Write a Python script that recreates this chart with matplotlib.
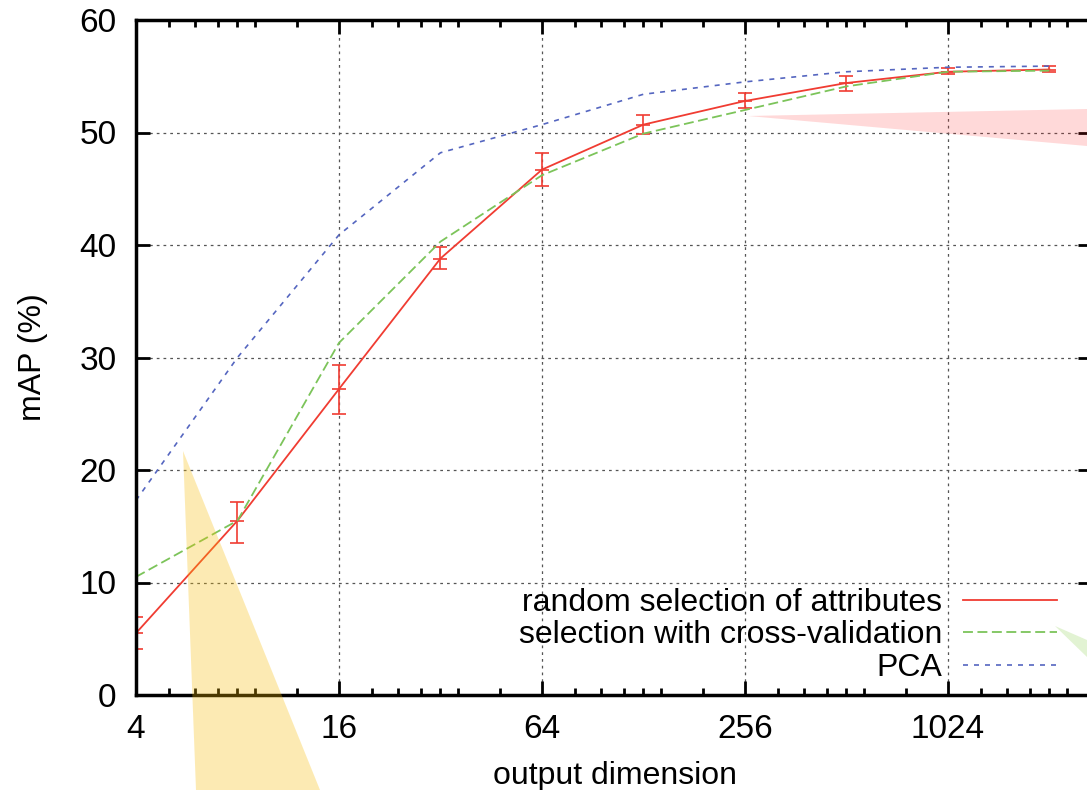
import matplotlib
matplotlib.use("Agg")
import matplotlib.pyplot as plt
from matplotlib.patches import Polygon
from matplotlib.ticker import FixedLocator, NullFormatter

plt.rcParams['font.family'] = ['Liberation Sans', 'DejaVu Sans']

# data
dims = [4, 8, 16, 32, 64, 128, 256, 512, 1024, 2048]
random_map = [5.5, 15.5, 27.2, 38.8, 46.7, 50.7, 52.8, 54.4, 55.4, 55.6]
random_low = [4.1, 13.5, 25.0, 37.9, 45.2, 49.9, 52.2, 53.7, 55.2, 55.4]
random_high = [6.9, 17.2, 29.3, 39.8, 48.2, 51.6, 53.5, 55.0, 55.7, 55.9]
crossval_map = [10.5, 15.5, 31.3, 40.3, 46.2, 49.9, 52.0, 54.1, 55.4, 55.5]
pca_map = [17.3, 30.0, 40.9, 48.2, 50.7, 53.4, 54.5, 55.4, 55.8, 55.9]
labels = ['random selection of attributes', 'selection with cross-validation', 'PCA']
xticks = [4, 16, 64, 256, 1024]
yticks = [0, 10, 20, 30, 40, 50, 60]

red = '#f03c32'
green = '#7cc45a'
blue = '#5566c0'

W, H = 1087, 790
fig = plt.figure(figsize=(W / 100, H / 100), dpi=100)
# axes box in pixels: left 136, right 1092 (just off the picture), top 20, bottom 695
ax = fig.add_axes([136 / W, 1 - 695 / H, (1092 - 136) / W, (695 - 20) / H])

ax.set_xscale('log', base=2)
ax.set_xlim(4, 2740)
ax.set_ylim(0, 60)

l1, = ax.plot(dims, random_map, color=red, lw=1.3, label=labels[0])
err_lo = [m - lo for m, lo in zip(random_map, random_low)]
err_hi = [hi - m for m, hi in zip(random_map, random_high)]
ax.errorbar(dims, random_map, yerr=[err_lo, err_hi], fmt='none', ecolor=red,
            elinewidth=1.2, capsize=4.7, capthick=1.2)
ax.plot(dims, random_map, ls='none', marker='_', ms=9.4, mew=1.2, color=red)
l2, = ax.plot(dims, crossval_map, color=green, lw=1.3, ls=(0, (5.5, 2.5)), label=labels[1])
l3, = ax.plot(dims, pca_map, color=blue, lw=1.2, ls=(0, (3.0, 3.6)), label=labels[2])

# ticks: log base 4 majors, odd gnuplot minors
ax.xaxis.set_major_locator(FixedLocator(xticks))
ax.set_xticklabels([str(t) for t in xticks])
mults = [1.25, 1.5, 1.75, 2, 2.25, 3]
minors = [m * b for b in [4, 16, 64, 256, 1024] for m in mults]
ax.xaxis.set_minor_locator(FixedLocator(minors))
ax.xaxis.set_minor_formatter(NullFormatter())
ax.set_yticks(yticks)
ax.yaxis.set_minor_locator(FixedLocator([]))

ax.tick_params(which='both', direction='in', top=True, right=True, width=2, labelsize=24)
ax.tick_params(which='major', length=10)
ax.tick_params(which='minor', length=5)
ax.tick_params(axis='x', pad=14)
ax.tick_params(axis='y', pad=14)
for s in ax.spines.values():
    s.set_linewidth(2.5)

ax.grid(True, which='major', color='#555555', lw=0.9, ls=(0, (2.2, 3.2)))
ax.set_axisbelow(True)

ax.set_xlabel('output dimension', fontsize=23)
ax.set_ylabel('mAP (%)', fontsize=23)
ax.xaxis.set_label_coords((615 - 136) / (1092 - 136), -(776 - 695) / 675)
ax.yaxis.set_label_coords(-(136 - 48) / (1092 - 136), 0.5)
ax.xaxis.label.set_va('center')

leg = ax.legend(handles=[l1, l2, l3], loc='lower right', frameon=False, markerfirst=False,
                fontsize=23, handlelength=2.95, handletextpad=0.65, labelspacing=0.08,
                borderpad=0, borderaxespad=0,
                bbox_to_anchor=(1057 / W, 1 - 683 / H), bbox_transform=fig.transFigure)

# translucent wedges overlaid on the picture
def wedge(pts, color, alpha):
    fig.add_artist(Polygon([(x / W, 1 - y / H) for x, y in pts], closed=True,
                           transform=fig.transFigure, facecolor=color, edgecolor='none',
                           alpha=alpha, zorder=10))

wedge([(183, 451), (196, 790), (320, 790)], '#f8bc05', 0.3)
wedge([(748, 116), (1087, 109), (1087, 146)], '#ff2020', 0.17)
wedge([(1055, 626), (1087, 640), (1087, 657)], '#8cd050', 0.25)

fig.savefig('out.png', dpi=100)
